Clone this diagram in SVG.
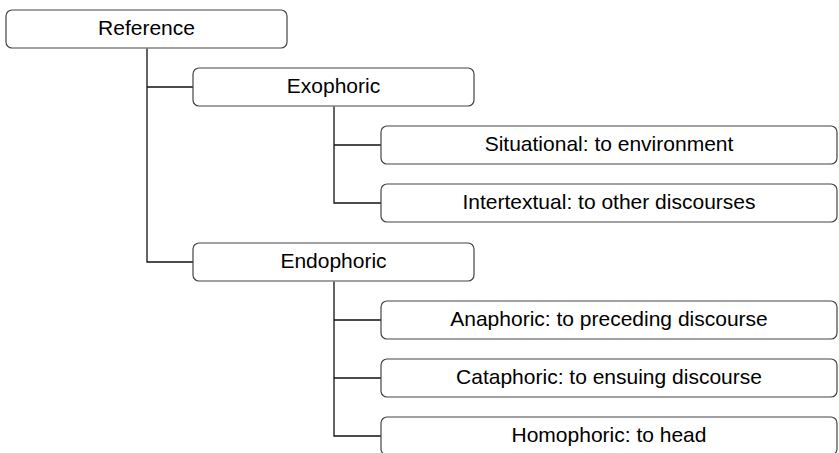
<svg xmlns="http://www.w3.org/2000/svg" width="839" height="453" viewBox="0 0 839 453">
<style>
.box{fill:#fff;stroke:#444;stroke-width:1.2}
.t{font-family:"Liberation Sans",Arial,sans-serif;font-size:21px;fill:#000;text-anchor:middle}
.c{fill:none;stroke:#111;stroke-width:1.3}
</style>
<rect width="839" height="453" fill="#fff"/>
<g id="connectors">
<path class="c" d="M147,48.5V262H193M147,87H193"/>
<path class="c" d="M334,106.5V203H381M334,145H381"/>
<path class="c" d="M334,281.5V436H381M334,320H381M334,378H381"/>
</g>
<g id="n-reference"><rect class="box" x="6" y="10" width="281" height="38" rx="6"/><text class="t" x="146.5" y="35">Reference</text></g>
<g id="n-exophoric"><rect class="box" x="193" y="68" width="281" height="38" rx="6"/><text class="t" x="333.5" y="93">Exophoric</text></g>
<g id="n-situational"><rect class="box" x="381" y="126" width="456" height="38" rx="6"/><text class="t" x="609" y="151">Situational: to environment</text></g>
<g id="n-intertextual"><rect class="box" x="381" y="184" width="456" height="38" rx="6"/><text class="t" x="609" y="209">Intertextual: to other discourses</text></g>
<g id="n-endophoric"><rect class="box" x="193" y="243" width="281" height="38" rx="6"/><text class="t" x="333.5" y="268">Endophoric</text></g>
<g id="n-anaphoric"><rect class="box" x="381" y="301" width="456" height="38" rx="6"/><text class="t" x="609" y="325.5">Anaphoric: to preceding discourse</text></g>
<g id="n-cataphoric"><rect class="box" x="381" y="359" width="456" height="38" rx="6"/><text class="t" x="609" y="383.5">Cataphoric: to ensuing discourse</text></g>
<g id="n-homophoric"><rect class="box" x="381" y="417" width="456" height="38" rx="6"/><text class="t" x="609" y="441.5">Homophoric: to head</text></g>
</svg>
